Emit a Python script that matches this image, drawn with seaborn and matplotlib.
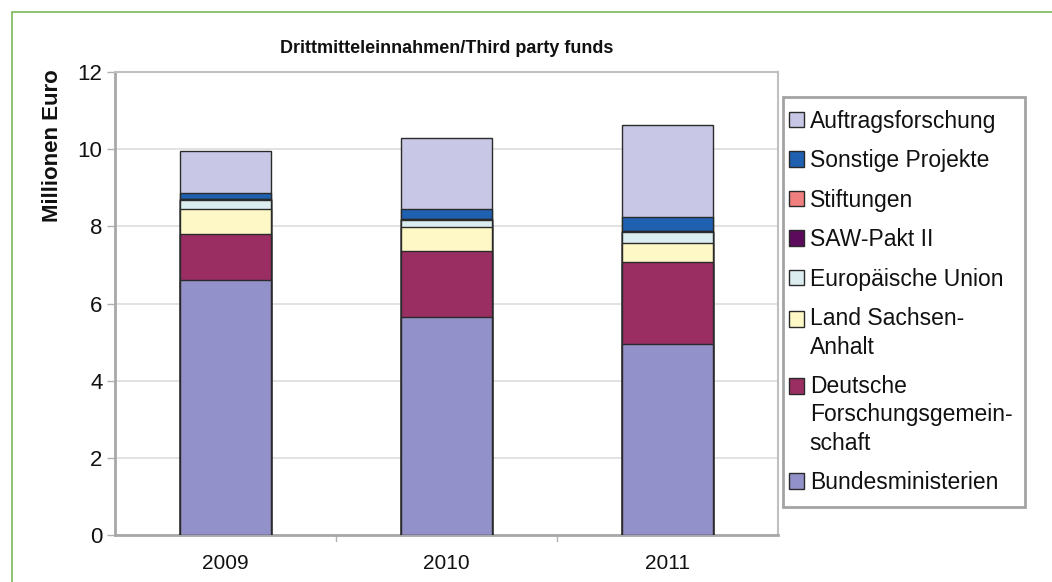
import numpy as np
import pandas as pd
import matplotlib
matplotlib.use("Agg")
import matplotlib.pyplot as plt
from matplotlib.patches import Rectangle, Patch
from matplotlib.legend_handler import HandlerPatch
import seaborn as sns

# Third-party funding by source, million euro
years = ["2009", "2010", "2011"]
bundesministerien = [6.60, 5.66, 4.95]
dfg = [1.20, 1.71, 2.13]
land_sachsen_anhalt = [0.65, 0.61, 0.49]
europaeische_union = [0.23, 0.18, 0.29]
saw_pakt = [0.02, 0.03, 0.02]
stiftungen = [0.01, 0.01, 0.01]
sonstige_projekte = [0.16, 0.25, 0.35]
auftragsforschung = [1.08, 1.83, 2.39]

series_names = [
    "Bundesministerien",
    "Deutsche\nForschungsgemein-\nschaft",
    "Land Sachsen-\nAnhalt",
    "Europäische Union",
    "SAW-Pakt II",
    "Stiftungen",
    "Sonstige Projekte",
    "Auftragsforschung",
]
series_values = [bundesministerien, dfg, land_sachsen_anhalt, europaeische_union,
                 saw_pakt, stiftungen, sonstige_projekte, auftragsforschung]
series_colors = ["#9391c9", "#9a2e62", "#fdf8c6", "#dcedf0",
                 "#5c0a5c", "#f08080", "#2060b0", "#c8c8e6"]
y_ticks = [0, 2, 4, 6, 8, 10, 12]

sns.set_theme(style="white")
plt.rcParams["font.family"] = ["Liberation Sans", "DejaVu Sans"]

fig = plt.figure(figsize=(10.52, 5.82), dpi=100)
ax = fig.add_axes([115 / 1052, 47 / 582, 663 / 1052, 463 / 582])

# stacked bars: draw cumulative totals from the top layer down
stack = np.cumsum(np.array(series_values), axis=0)
for i in range(len(series_names) - 1, -1, -1):
    df = pd.DataFrame({"year": years, "value": stack[i]})
    sns.barplot(data=df, x="year", y="value", color=series_colors[i],
                width=0.41, edgecolor="#2a2a2a", linewidth=1.0,
                saturation=1, ax=ax, zorder=3)

ax.set_xlim(-0.5, 2.5)
ax.set_ylim(0, 12)
ax.set_yticks(y_ticks)
ax.set_yticklabels([str(t) for t in y_ticks], fontsize=16, color="#111111")
ax.set_xticks([0, 1, 2])
ax.set_xticklabels(years, fontsize=15, color="#111111")
ax.tick_params(axis="x", length=0, pad=14)
ax.tick_params(axis="y", length=6, width=1, color="#b0b0b0", pad=3, left=True)
for b in [0.5, 1.5]:
    ax.axvline(b, ymin=-0.014, ymax=0, color="#b0b0b0", lw=1, clip_on=False)

ax.yaxis.grid(True, color="#dddddd", lw=1.2, zorder=0)
ax.xaxis.grid(False)
ax.set_xlabel("")
ax.set_ylabel("Millionen Euro", fontsize=16, fontweight="bold", color="#111111")
ax.yaxis.set_label_coords(-0.079, 0.842)
ax.set_title("Drittmitteleinnahmen/Third party funds", fontsize=13,
             fontweight="bold", color="#111111", pad=14)

for side in ["left", "bottom"]:
    ax.spines[side].set_color("#a8a8a8")
    ax.spines[side].set_linewidth(2.0)
for side in ["top", "right"]:
    ax.spines[side].set_color("#c0c0c0")
    ax.spines[side].set_linewidth(1.5)


class TopAlignedPatch(HandlerPatch):
    """Legend square placed beside the first line of a multi-line label."""

    def __init__(self, nlines, linespacing):
        super().__init__()
        self.nlines = nlines
        self.linespacing = linespacing

    def create_artists(self, legend, orig_handle, xdescent, ydescent,
                       width, height, fontsize, trans):
        shift = (self.nlines - 1) * 0.5 * self.linespacing * fontsize
        size = 0.68 * fontsize
        p = Rectangle((-xdescent - 0.3 * fontsize, -ydescent + shift
                       + (height - size) / 2), size, size)
        self.update_prop(p, orig_handle, legend)
        p.set_transform(trans)
        return [p]


legend_linespacing = 1.3
handles = [Patch(facecolor=c, edgecolor="#2a2a2a", linewidth=1.0)
           for c in series_colors]
handler_map = {h: TopAlignedPatch(name.count("\n") + 1, legend_linespacing)
               for h, name in zip(handles, series_names)}
leg = fig.legend(handles[::-1], series_names[::-1], handler_map=handler_map,
                 loc="upper left", bbox_to_anchor=(783 / 1052, 1 - 97 / 582),
                 fontsize=16.5, frameon=True, fancybox=False, shadow=False,
                 handlelength=0.45, handleheight=0.7, handletextpad=0.17,
                 labelspacing=0.72, borderpad=0.55, borderaxespad=0)
leg.get_frame().set_edgecolor("#8c8c8c")
leg.get_frame().set_linewidth(2.0)
for t in leg.get_texts():
    t.set_color("#111111")
    t.set_linespacing(legend_linespacing)

# thin green frame around the figure
fig.add_artist(Rectangle((12 / 1052, -0.05), 1.1, 1.05 - 12 / 582,
                         transform=fig.transFigure, fill=False,
                         edgecolor="#7ab85a", linewidth=1.2))

fig.savefig("out.png", dpi=100)
